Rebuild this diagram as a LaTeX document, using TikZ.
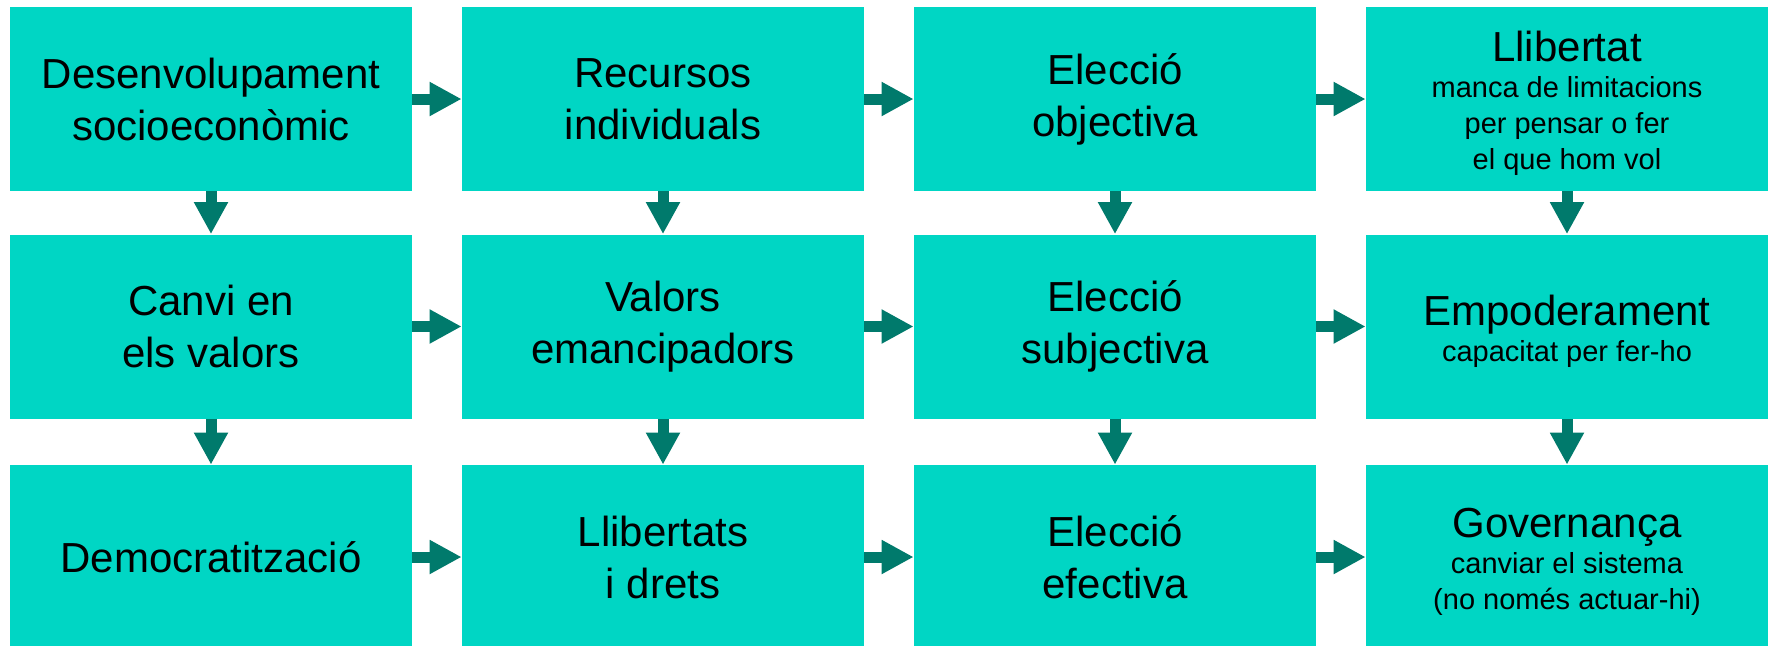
\documentclass[tikz,border=0pt]{standalone}
\usepackage{fontspec}
\setmainfont{Liberation Sans}
\usetikzlibrary{arrows.meta}

\definecolor{cellfill}{HTML}{00D6C4}
\definecolor{flowteal}{HTML}{007A6C}
\tikzstyle{cell}=[fill=cellfill,inner sep=0pt,minimum width=201pt,minimum height=92pt,align=center,font=\fontsize{21pt}{26pt}\selectfont]
\tikzstyle{cellsub}=[cell,font=\fontsize{14.5pt}{18pt}\selectfont]
\tikzstyle{flow}=[draw=flowteal,line width=5.5pt,-{Triangle[length=16pt,width=16pt]}]
\newcommand{\celltitle}[1]{{\fontsize{21pt}{26pt}\selectfont\rule{0pt}{19.5pt}#1}}

\begin{document}
\begin{tikzpicture}[x=0.5pt,y=-0.5pt]
    \fill[white] (0,0) rectangle (1773,645);
    \useasboundingbox (0,0) rectangle (1773,645);
    % First we draw the cells
    \foreach \pos/\name/\txt in {{(211,99)/dev/Desenvolupament\\socioeconòmic}, {(663,99)/res/Recursos\\individuals}, {(1115,99)/obj/Elecció\\objectiva},
        {(211,326.5)/can/Canvi en\\els valors}, {(663,326.5)/val/Valors\\emancipadors}, {(1115,326.5)/sub/Elecció\\subjectiva},
        {(211,557)/dem/Democratització}, {(663,557)/dre/Llibertats\\i drets}, {(1115,557)/efe/Elecció\\efectiva}}
        \node[cell] (\name) at \pos {\txt};
    \node[cellsub] (lib) at (1567,99) {\celltitle{Llibertat}\\manca de limitacions\\per pensar o fer\\el que hom vol};
    \node[cellsub] (emp) at (1567,326.5) {\celltitle{Empoderament}\\capacitat per fer-ho};
    \node[cellsub] (gov) at (1567,557) {\celltitle{Governança}\\canviar el sistema\\(no només actuar-hi)};
    % Connect cells along rows and down columns
    \foreach \source/\dest in {dev/res,res/obj,obj/lib,can/val,val/sub,sub/emp,dem/dre,dre/efe,efe/gov,
        dev/can,can/dem,res/val,val/dre,obj/sub,sub/efe,lib/emp,emp/gov}
        \path[flow] (\source) -- (\dest);
\end{tikzpicture}
\end{document}
